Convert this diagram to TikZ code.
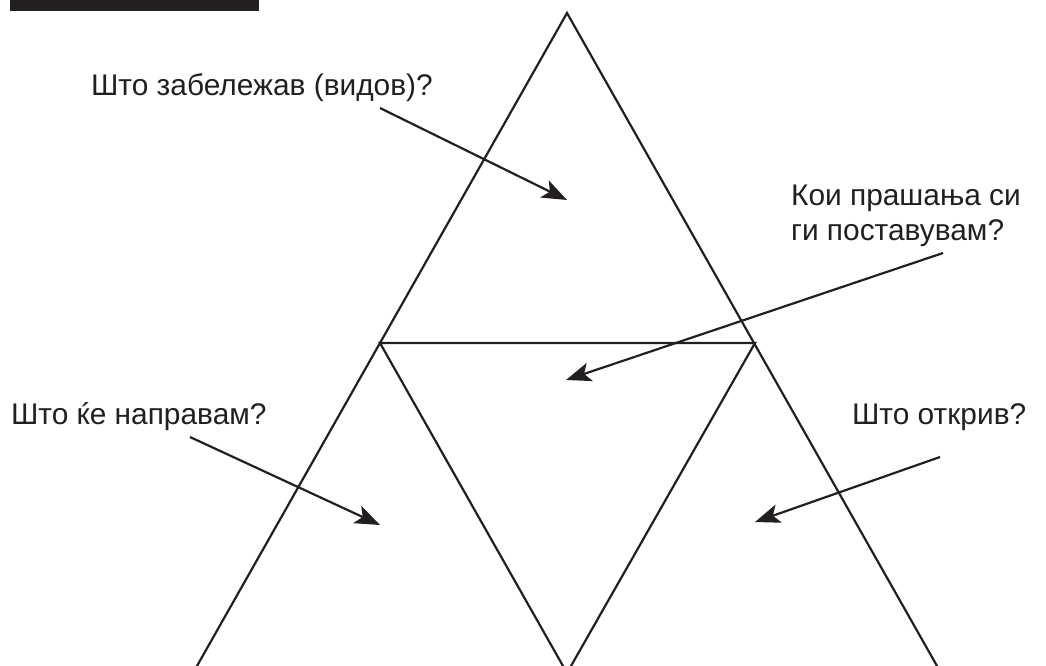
\documentclass[tikz,border=0pt]{standalone}
\usepackage{fontspec}
\setmainfont{Liberation Sans}
\usetikzlibrary{arrows.meta}
\definecolor{ink}{HTML}{231F20}

\begin{document}
\begin{tikzpicture}[x=0.02cm,y=-0.02cm,line width=1.25pt,color=ink,>={Stealth[length=0.5cm,width=0.38cm,inset=0.12cm]}]
  \useasboundingbox (0,0) rectangle (1046,666);
  \clip (0,0) rectangle (1046,666);
  \coordinate (T) at (567,13);
  \coordinate (L) at (380,343);
  \coordinate (R) at (755,343);
  \coordinate (BL) at (193,673);
  \coordinate (BM) at (567,673);
  \coordinate (BR) at (941,673);
  \fill[ink] (10,-2) rectangle (259,11);
  \draw (BL) -- (T) -- (BR);
  \draw (L) -- (R) -- (BM) -- cycle;

  \node[anchor=base west,inner sep=0pt,font=\fontsize{17}{20}\selectfont] (saw) at (90,95) {Што забележав (видов)?};
  \node[anchor=base west,inner sep=0pt,align=left,font=\fontsize{17}{19.4}\selectfont] (ask) at (790,240) {Кои прашања си\\ги поставувам?};
  \node[anchor=base west,inner sep=0pt,font=\fontsize{17}{20}\selectfont] (do) at (10,424) {Што ќе направам?};
  \node[anchor=base west,inner sep=0pt,font=\fontsize{17}{20}\selectfont] (found) at (851,424) {Што открив?};

  \coordinate (saw-s) at (380,108);
  \coordinate (saw-e) at (567,200);
  \coordinate (ask-s) at (943,253);
  \coordinate (ask-e) at (566,380);
  \coordinate (do-s) at (190,437);
  \coordinate (do-e) at (380,525);
  \coordinate (found-s) at (940,457);
  \coordinate (found-e) at (755,522);
  \draw[->] (saw-s) -- (saw-e);
  \draw[->] (ask-s) -- (ask-e);
  \draw[->] (do-s) -- (do-e);
  \draw[->] (found-s) -- (found-e);
\end{tikzpicture}
\end{document}
